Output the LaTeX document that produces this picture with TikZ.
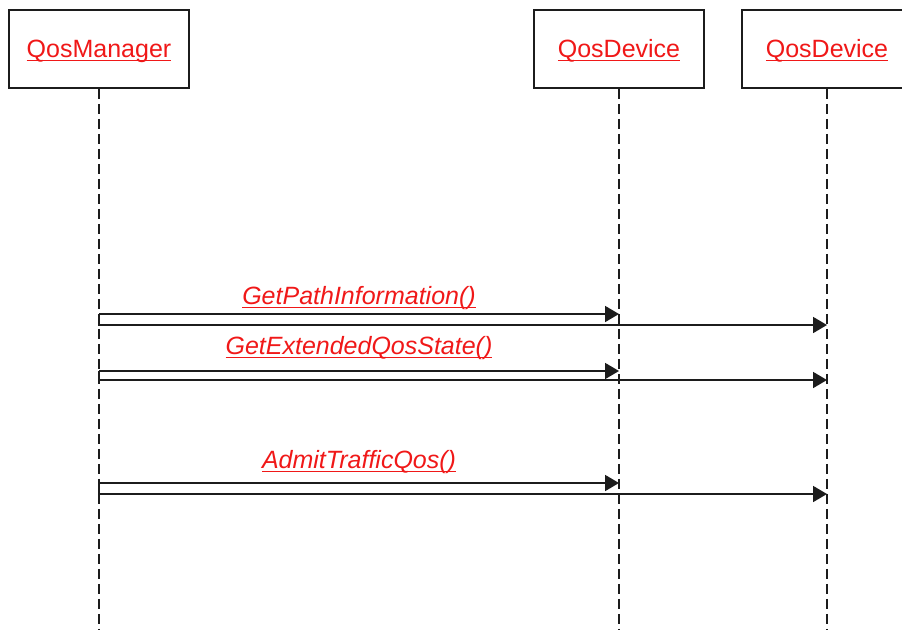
\documentclass[tikz,border=0pt]{standalone}
\usepackage{fontspec}
\setmainfont{Liberation Sans}
\usetikzlibrary{arrows.meta,positioning,calc}
\definecolor{linkred}{HTML}{F01818}
\definecolor{inkdark}{HTML}{1C1C1C}
% red hyperlink-style name with a rule under it
\newcommand{\linkname}[1]{\setbox0=\hbox{#1}\rlap{\rule[-4pt]{\wd0}{1.3pt}}\box0}

\begin{document}
\begin{tikzpicture}[x=1pt,y=-1pt,
  actor/.style={draw=inkdark,line width=1.8pt,fill=white,minimum height=78pt,
                text height=21pt,text depth=5pt,text=linkred,
                font=\fontsize{25}{30}\selectfont},
  lifeline/.style={draw=inkdark,line width=2pt,dash pattern=on 10pt off 5pt},
  call/.style={draw=inkdark,line width=1.8pt,-{Triangle[length=14pt,width=16pt]}},
  calllabel/.style={anchor=base,text=linkred,font=\fontsize{25}{30}\selectfont\itshape}]
  \useasboundingbox (0,0) rectangle (902,629);

  % actors
  \node[actor,minimum width=180pt] (mgr)  at (99,49)  {\linkname{QosManager}};
  \node[actor,minimum width=170pt] (devA) at (619,49) {\linkname{QosDevice}};
  \node[actor,minimum width=170pt] (devB) at (827,49) {\linkname{QosDevice}};

  % lifelines
  \coordinate (floor) at (0,629);
  \foreach \who in {mgr,devA,devB}
    \draw[lifeline] (\who.south) -- (\who |- floor);

  % calls, each sent to both devices
  \foreach \i/\msg/\ya/\yb/\yt in {1/GetPathInformation()/314/325/304,
                                   2/GetExtendedQosState()/371/380/354,
                                   3/AdmitTrafficQos()/483/494/468}{
    \coordinate (src\i) at (mgr |- 0,\ya);
    \coordinate (tA\i) at (devA |- 0,\ya);
    \coordinate (tB\i) at (devB |- 0,\yb);
    \draw[call] (src\i) -- (tA\i);
    \draw[call] (src\i) |- (tB\i);
    \node[calllabel] (lbl\i) at ($(src\i)!0.5!(tA\i)+(0,{\yt-\ya})$) {\linkname{\msg}};
  }
\end{tikzpicture}
\end{document}
